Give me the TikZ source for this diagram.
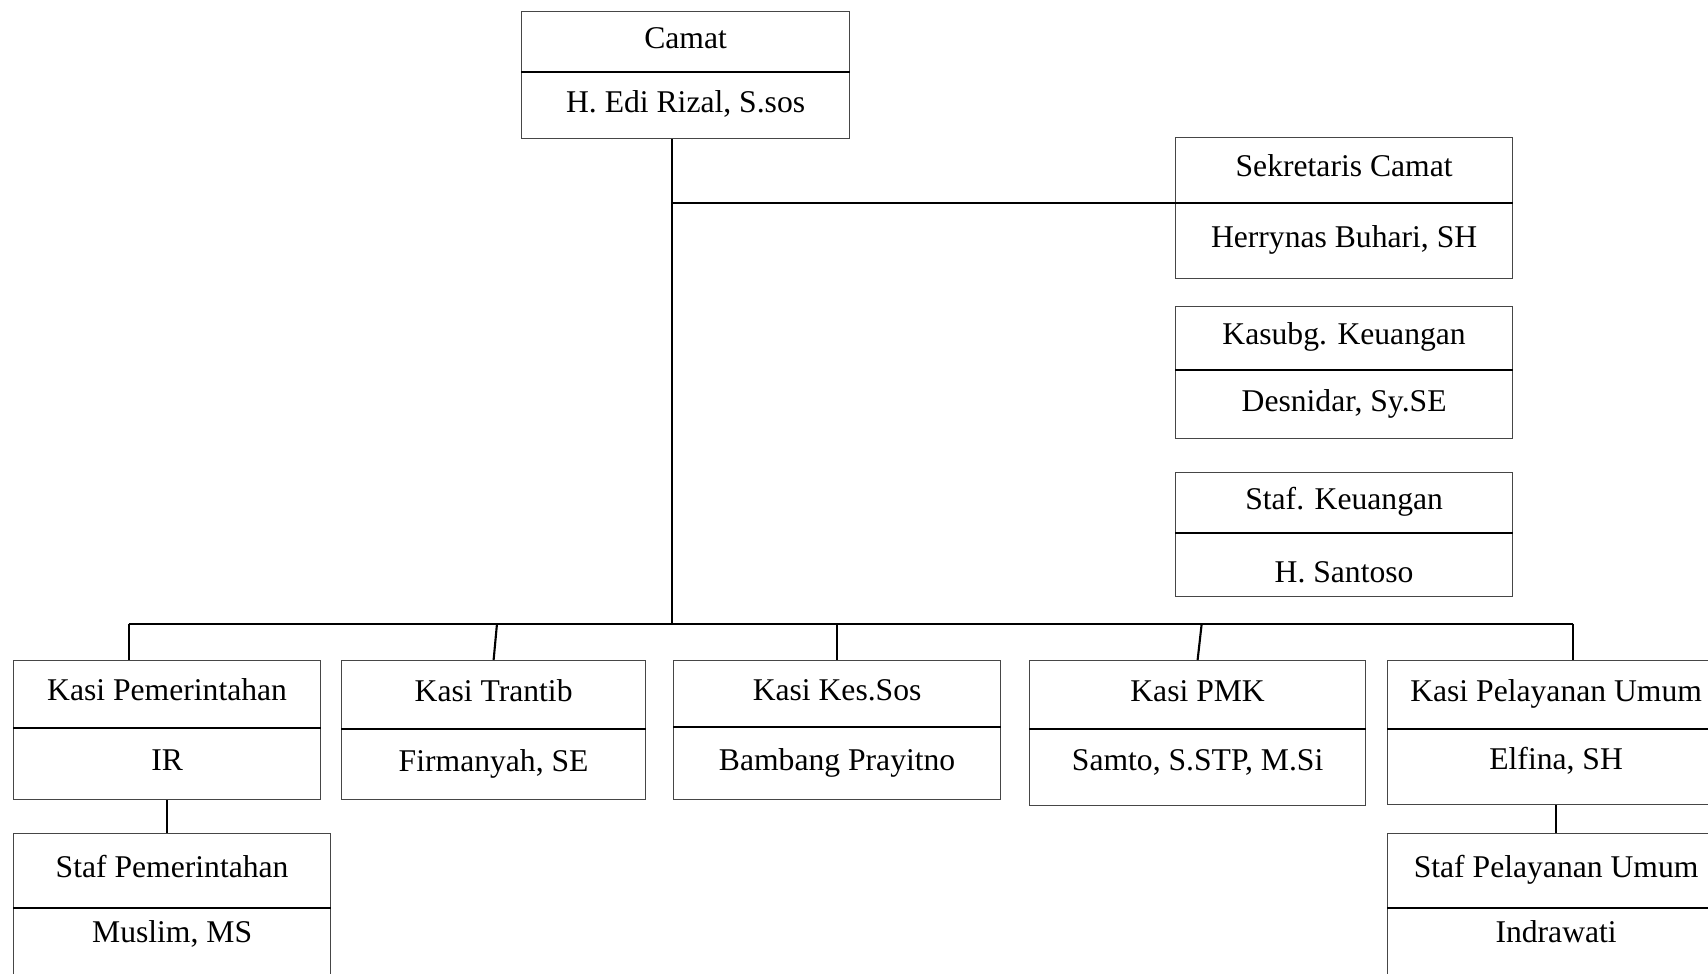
\documentclass[tikz,border=0pt]{standalone}
\usepackage{fontspec}
\setmainfont{Liberation Serif}
\usetikzlibrary{calc}

\begin{document}
\begin{tikzpicture}[font=\fontsize{9}{11}\selectfont]
\definecolor{tepi}{RGB}{70,70,70}
\tikzset{
  kotak/.style={draw=tepi,line width=0.35pt,anchor=north west,inner sep=0pt,
    text height=2.3mm,text depth=1.0mm},
  garis/.style={black,line width=0.6pt}
}

% one position: title part on top, name part below
\newcommand{\jabatan}[9]{
  \node[kotak,minimum width=#4cm,minimum height=#5cm] (#1) at (#2,#3) {#7};
  \node[kotak,minimum width=#4cm,minimum height=#6cm,#9] (#1n) at (#1.south west) {#8};
  \draw[garis] (#1.south west) -- (#1.south east);
}

\useasboundingbox (0,0) rectangle (17.08,-9.74);
\clip (0,0) rectangle (17.08,-9.74);

% Top: camat and the secretariat column.
\jabatan{camat}{5.21}{-0.11}{3.28}{0.60}{0.66}{Camat}{H. Edi Rizal, S.sos}{}
\jabatan{sekcam}{11.75}{-1.37}{3.37}{0.65}{0.75}{Sekretaris Camat}{Herrynas Buhari, SH}{}
\jabatan{kasubg}{11.75}{-3.06}{3.37}{0.63}{0.68}{Kasubg. Keuangan}{Desnidar, Sy.SE}{}
\jabatan{stafkeu}{11.75}{-4.72}{3.37}{0.60}{0.63}{Staf. Keuangan}{H. Santoso}{text height=4.4mm}

% Row of kasi.
\jabatan{kpem}{0.13}{-6.60}{3.07}{0.67}{0.71}{Kasi Pemerintahan}{IR}{}
\jabatan{ktrantib}{3.41}{-6.60}{3.04}{0.68}{0.70}{Kasi Trantib}{Firmanyah, SE}{}
\jabatan{ksos}{6.73}{-6.60}{3.27}{0.66}{0.72}{Kasi Kes.Sos}{Bambang Prayitno}{}
\jabatan{kpmk}{10.29}{-6.60}{3.36}{0.68}{0.76}{Kasi PMK}{Samto, S.STP, M.Si}{text depth=1.8mm}
\jabatan{kpu}{13.87}{-6.60}{3.37}{0.68}{0.75}{Kasi Pelayanan Umum}{Elfina, SH}{text depth=1.8mm}

% Staff under the kasi.
\jabatan{spem}{0.13}{-8.33}{3.17}{0.74}{0.80}{Staf Pemerintahan}{Muslim, MS}{text depth=3.6mm}
\jabatan{spu}{13.87}{-8.33}{3.37}{0.74}{0.80}{Staf Pelayanan Umum}{Indrawati}{text depth=3.6mm}

% connectors
\coordinate (pusat) at (6.717,-6.237);
\coordinate (b1) at (1.287,-6.237);
\coordinate (b2) at (4.97,-6.237);
\coordinate (b3) at (ksos.north |- pusat);
\coordinate (b4) at (12.017,-6.237);
\coordinate (b5) at (15.733,-6.237);

\draw[garis] (pusat |- camatn.south) -- (pusat);
\draw[garis] (pusat |- sekcam.south) -- (sekcam.south west);
\draw[garis] (b1) -- (b5);
\draw[garis] (b1) -- (b1 |- kpem.north);
\draw[garis] (b2) -- (ktrantib.north);
\draw[garis] (b3) -- (ksos.north);
\draw[garis] (b4) -- (kpmk.north);
\draw[garis] (b5) -- (b5 |- kpu.north);
\draw[garis] (kpemn.south) -- (kpemn.south |- spem.north);
\draw[garis] (kpun.south) -- (kpun.south |- spu.north);
\end{tikzpicture}
\end{document}
